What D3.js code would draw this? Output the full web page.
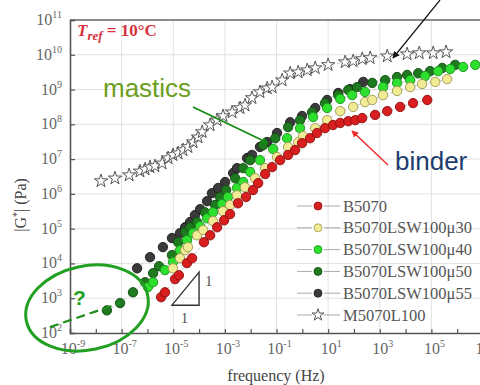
<!DOCTYPE html>
<html>
<head>
<meta charset="utf-8">
<script src="https://cdn.jsdelivr.net/npm/d3@7"></script>
<style>
  html, body { margin: 0; padding: 0; background: #fff; }
  svg { display: block; }
</style>
</head>
<body>
<div id="chart"></div>
<script>
// log10(frequency Hz), log10(|G*| Pa)
const binder = [[-5.47,3.03],[-5.32,3.17],[-4.93,3.55],[-4.78,3.66],[-4.47,4.01],[-4.27,4.15],[-3.81,4.61],[-3.57,4.81],[-3.30,5.04],[-3.03,5.24],[-2.80,5.42],[-2.49,5.73],[-2.18,5.91],[-1.91,6.11],[-1.71,6.31],[-1.44,6.57],[-1.17,6.77],[-0.86,6.97],[-0.55,7.12],[-0.28,7.26],[-0.01,7.46],[0.30,7.60],[0.57,7.75],[0.88,7.89],[1.19,7.98],[1.47,8.04],[1.78,8.09],[2.05,8.12],[2.32,8.18],[2.82,8.27],[3.29,8.38],[3.79,8.50],[4.29,8.61],[4.84,8.70]];
const mu30 = [[-5.01,3.86],[-4.74,4.15],[-4.54,4.38],[-4.43,4.47],[-4.08,4.81],[-3.84,4.96],[-3.46,5.22],[-3.07,5.50],[-2.80,5.68],[-2.53,5.96],[-2.22,6.19],[-1.83,6.45],[-1.44,6.74],[-0.98,7.06],[-0.55,7.35],[-0.16,7.49],[0.03,7.66],[0.50,7.89],[0.96,8.12],[1.47,8.38],[1.97,8.50],[2.43,8.64],[2.71,8.70],[3.13,8.84],[3.67,8.96],[4.18,9.07],[4.64,9.16],[5.15,9.22],[5.61,9.30]];
const mu40 = [[-5.98,3.32],[-5.78,3.46],[-5.32,3.81],[-5.01,4.04],[-4.74,4.38],[-4.47,4.67],[-4.23,4.87],[-3.96,5.07],[-3.69,5.30],[-3.46,5.47],[-3.11,5.71],[-2.88,5.91],[-2.53,6.17],[-2.29,6.34],[-2.02,6.63],[-1.64,6.97],[-1.13,7.29],[-0.59,7.60],[-0.09,7.89],[0.42,8.21],[0.96,8.47],[1.47,8.73],[1.93,8.84],[2.43,8.93],[3.13,9.07],[3.67,9.19],[4.18,9.27],[4.76,9.39],[5.26,9.53],[5.73,9.59],[6.23,9.65],[6.70,9.71]];
const mu50 = [[-7.57,2.65],[-7.06,2.86],[-6.56,3.17],[-6.09,3.46],[-5.78,3.72],[-5.55,3.92],[-5.05,4.24],[-4.81,4.61],[-4.54,4.90],[-4.35,5.04],[-4.08,5.19],[-3.77,5.47],[-3.38,5.68],[-3.19,5.91],[-2.95,6.11],[-2.60,6.45],[-2.29,6.74],[-2.02,6.97],[-1.52,7.40],[-1.05,7.60],[-0.55,7.92],[-0.09,8.12],[0.38,8.35],[0.88,8.61],[1.39,8.84],[1.78,8.99],[2.12,9.07],[2.71,9.19],[3.21,9.27],[3.67,9.36],[4.06,9.42],[4.49,9.47],[4.95,9.53],[5.42,9.62],[5.92,9.71]];
const mu55 = [[-6.40,3.86],[-5.90,4.18],[-5.40,4.47],[-5.05,4.73],[-4.74,4.87],[-4.54,5.04],[-4.35,5.19],[-4.16,5.39],[-3.96,5.56],[-3.69,5.79],[-3.50,6.02],[-3.26,6.17],[-2.99,6.34],[-2.68,6.60],[-2.53,6.74],[-2.14,7.03],[-1.95,7.12],[-1.64,7.35],[-1.36,7.49],[-0.98,7.75],[-0.47,8.06],[-0.01,8.24],[0.50,8.47],[0.96,8.70],[1.39,8.90],[1.85,9.01],[2.36,9.22]];
const mastic = [[-7.80,6.37],[-7.26,6.45],[-6.71,6.54],[-6.29,6.65],[-6.09,6.71],[-5.90,6.77],[-5.71,6.80],[-5.43,6.88],[-5.20,7.03],[-5.01,7.12],[-4.81,7.17],[-4.62,7.26],[-4.43,7.35],[-4.23,7.49],[-4.04,7.63],[-3.88,7.78],[-3.57,7.98],[-3.30,8.12],[-3.07,8.24],[-2.72,8.35],[-2.41,8.47],[-2.22,8.55],[-1.95,8.76],[-1.64,8.93],[-1.36,9.04],[-1.17,9.07],[-0.78,9.27],[-0.47,9.47],[-0.16,9.50],[0.19,9.56],[0.50,9.62],[1.00,9.71],[1.66,9.79],[1.97,9.82],[2.32,9.88],[2.63,9.91],[3.29,9.96],[4.06,10.02],[4.53,10.05],[5.07,10.05],[5.57,10.08]];

const seriesNames = ['B5070', 'B5070LSW100\u03bc30', 'B5070LSW100\u03bc40', 'B5070LSW100\u03bc50', 'B5070LSW100\u03bc55', 'M5070L100'];
const yTickExps = [2, 3, 4, 5, 6, 7, 8, 9, 10, 11];
const xTickExps = [-9, -7, -5, -3, -1, 1, 3, 5, 7];

const width = 480, height = 385;
const serif = '"Liberation Serif", "DejaVu Serif", serif';
const sans = '"Liberation Sans", Arial, sans-serif';

const svg = d3.select('#chart').append('svg')
  .attr('width', width)
  .attr('height', height);

const x = d3.scaleLog().domain([1e-9, 1e7]).range([70, 483]);
const y = d3.scaleLog().domain([1e2, 1e11]).range([333, 20]);
const px = d => x(Math.pow(10, d[0]));
const py = d => y(Math.pow(10, d[1]));

// grid
const decades = d3.range(3, 11);
svg.append('g').selectAll('line').data(decades).enter().append('line')
  .attr('x1', 70).attr('x2', width)
  .attr('y1', d => y(Math.pow(10, d))).attr('y2', d => y(Math.pow(10, d)))
  .attr('stroke', '#e2e2e2').attr('stroke-width', 1);
svg.append('g').selectAll('line').data(xTickExps.slice(1)).enter().append('line')
  .attr('x1', d => x(Math.pow(10, d))).attr('x2', d => x(Math.pow(10, d)))
  .attr('y1', 20).attr('y2', 333)
  .attr('stroke', '#e2e2e2').attr('stroke-width', 1);

// frame
svg.append('line').attr('x1', 70).attr('x2', width).attr('y1', 20).attr('y2', 20)
  .attr('stroke', '#8c8c8c').attr('stroke-width', 2);

// axes
const yAxis = svg.append('g').attr('transform', 'translate(70,0)')
  .call(d3.axisLeft(y).tickValues(yTickExps.map(e => Math.pow(10, e))).tickSize(-5).tickFormat(''));
const xAxis = svg.append('g').attr('transform', 'translate(0,333)')
  .call(d3.axisBottom(x).tickValues(d3.range(-9, 8).map(e => Math.pow(10, e))).tickSize(-4).tickFormat(''));
[yAxis, xAxis].forEach(a => {
  a.select('.domain').attr('stroke', '#555').attr('stroke-width', 1.6);
  a.selectAll('.tick line').attr('stroke', '#555').attr('stroke-width', 1.2);
});

// tick labels: 10 with superscript
yTickExps.forEach(e => {
  const t = svg.append('text')
    .attr('x', 62).attr('y', y(Math.pow(10, e)) + 5)
    .attr('text-anchor', 'end')
    .attr('font-family', serif).attr('font-size', 16).attr('fill', '#666');
  t.append('tspan').text('10');
  t.append('tspan').attr('dy', -7).attr('font-size', 10).text(e);
});
xTickExps.forEach(e => {
  const t = svg.append('text')
    .attr('x', x(Math.pow(10, e)) + 3).attr('y', 354)
    .attr('text-anchor', 'middle')
    .attr('font-family', serif).attr('font-size', 16).attr('fill', '#666');
  t.append('tspan').text('10');
  t.append('tspan').attr('dy', -7).attr('font-size', 10).text(e);
});

// axis titles
svg.append('text')
  .attr('x', 276).attr('y', 381)
  .attr('text-anchor', 'middle')
  .attr('font-family', serif).attr('font-size', 16).attr('fill', '#444')
  .text('frequency (Hz)');
const yt = svg.append('text')
  .attr('transform', 'translate(26,205) rotate(-90)')
  .attr('text-anchor', 'middle')
  .attr('font-family', serif).attr('font-size', 16).attr('fill', '#444');
yt.append('tspan').text('|G');
yt.append('tspan').attr('dy', -6).attr('font-size', 10).text('*');
yt.append('tspan').attr('dy', 6).text('| (Pa)');

// series
const styles = [
  { data: mastic, fill: '#fff', stroke: '#555', star: true },
  { data: mu55, fill: '#3a3a3a', stroke: '#1c1c1c' },
  { data: mu50, fill: '#1f7a1f', stroke: '#0f4a0f' },
  { data: mu40, fill: '#2ee02e', stroke: '#1b8f1b' },
  { data: mu30, fill: '#f2eb96', stroke: '#9c9450' },
  { data: binder, fill: '#d81e1e', stroke: '#8a1010' },
];
const line = d3.line().x(px).y(py);
const star = d3.symbol().type(d3.symbolStar).size(55);

styles.forEach(s => {
  svg.append('path').datum(s.data)
    .attr('d', line)
    .attr('fill', 'none').attr('stroke', '#bdbdbd').attr('stroke-width', 0.8)
    .attr('stroke-dasharray', '3,2');
});
styles.forEach(s => {
  const g = svg.append('g');
  if (s.star) {
    g.selectAll('path').data(s.data).enter().append('path')
      .attr('d', star)
      .attr('transform', d => `translate(${px(d)},${py(d)})`)
      .attr('fill', s.fill).attr('stroke', s.stroke).attr('stroke-width', 1);
  } else {
    g.selectAll('circle').data(s.data).enter().append('circle')
      .attr('cx', px).attr('cy', py).attr('r', 4.7)
      .attr('fill', s.fill).attr('stroke', s.stroke).attr('stroke-width', 0.9);
  }
});

// legend
const legendOrder = [5, 4, 3, 2, 1, 0];
const legend = svg.append('g');
seriesNames.forEach((name, i) => {
  const s = styles[legendOrder[i]];
  const ly = 206 + i * 21.8;
  legend.append('line').attr('x1', 297).attr('x2', 340).attr('y1', ly).attr('y2', ly)
    .attr('stroke', '#aaa').attr('stroke-width', 1);
  legend.append('rect').attr('x', 312).attr('y', ly - 6).attr('width', 12).attr('height', 12).attr('fill', '#fff');
  if (s.star) {
    legend.append('path').attr('d', d3.symbol().type(d3.symbolStar).size(45))
      .attr('transform', `translate(318,${ly})`)
      .attr('fill', '#fff').attr('stroke', s.stroke).attr('stroke-width', 1);
  } else {
    legend.append('circle').attr('cx', 318).attr('cy', ly).attr('r', 4)
      .attr('fill', s.fill).attr('stroke', s.stroke).attr('stroke-width', 0.8);
  }
  legend.append('text').attr('x', 343).attr('y', ly + 5.5)
    .attr('font-family', serif).attr('font-size', 16.5).attr('fill', '#555')
    .text(name);
});

// title
const title = svg.append('text').attr('x', 77).attr('y', 36)
  .attr('font-family', serif).attr('font-size', 17).attr('font-weight', 'bold').attr('fill', '#d8333f');
title.append('tspan').attr('font-style', 'italic').text('T');
title.append('tspan').attr('font-style', 'italic').attr('font-size', 13).attr('dy', 4).text('ref');
title.append('tspan').attr('dy', -4).text(' = 10\u00b0C');

// slope triangle
const tri = [[-5.05, 2.8], [-4.0, 2.8], [-4.0, 3.75]];
svg.append('path')
  .attr('d', d3.line().x(px).y(py)(tri) + 'Z')
  .attr('fill', 'none').attr('stroke', '#333').attr('stroke-width', 1.4);
svg.append('text').attr('x', px([-4.0, 0]) + 6).attr('y', py([0, 3.35]))
  .attr('font-family', serif).attr('font-size', 15).attr('fill', '#555').text('1');
svg.append('text').attr('x', px([-4.55, 0]) - 4).attr('y', py([0, 2.8]) + 18)
  .attr('font-family', serif).attr('font-size', 15).attr('fill', '#555').text('1');

// arrow heads
const defs = svg.append('defs');
[['ag', '#108a10'], ['ar', '#f02a2a'], ['ak', '#111']].forEach(([id, c]) => {
  defs.append('marker').attr('id', id).attr('viewBox', '0 0 10 10')
    .attr('refX', 9).attr('refY', 5).attr('markerWidth', 7).attr('markerHeight', 7)
    .attr('orient', 'auto').attr('markerUnits', 'userSpaceOnUse')
    .append('path').attr('d', 'M0,0 L10,5 L0,10 z').attr('fill', c);
});
svg.append('line').attr('x1', 193).attr('y1', 107).attr('x2', 268).attr('y2', 143)
  .attr('stroke', '#108a10').attr('stroke-width', 1.6).attr('marker-end', 'url(#ag)');
svg.append('line').attr('x1', 388).attr('y1', 165).attr('x2', 352).attr('y2', 131)
  .attr('stroke', '#f02a2a').attr('stroke-width', 1.4).attr('marker-end', 'url(#ar)');
svg.append('line').attr('x1', 440).attr('y1', 0).attr('x2', 393).attr('y2', 58)
  .attr('stroke', '#111').attr('stroke-width', 1.2).attr('marker-end', 'url(#ak)');

svg.append('text').attr('x', 103).attr('y', 97)
  .attr('font-family', sans).attr('font-size', 26).attr('fill', '#6b9e1c').text('mastics');
svg.append('text').attr('x', 395).attr('y', 170)
  .attr('font-family', sans).attr('font-size', 26).attr('fill', '#1c3d6e').text('binder');

// extrapolation guess
const guess = [[-9.78, 2.17], [-7.06, 2.86]];
svg.append('path').attr('d', line(guess))
  .attr('fill', 'none').attr('stroke', '#1f8f1f').attr('stroke-width', 2.2)
  .attr('stroke-dasharray', '9,5');
svg.append('ellipse').attr('cx', 87).attr('cy', 308).attr('rx', 62).attr('ry', 42)
  .attr('transform', 'rotate(-12 87 308)')
  .attr('fill', 'none').attr('stroke', '#22a022').attr('stroke-width', 3);
svg.append('text').attr('x', 73).attr('y', 305)
  .attr('font-family', sans).attr('font-size', 21).attr('font-weight', 'bold').attr('fill', '#22a022').text('?');
</script>
</body>
</html>
